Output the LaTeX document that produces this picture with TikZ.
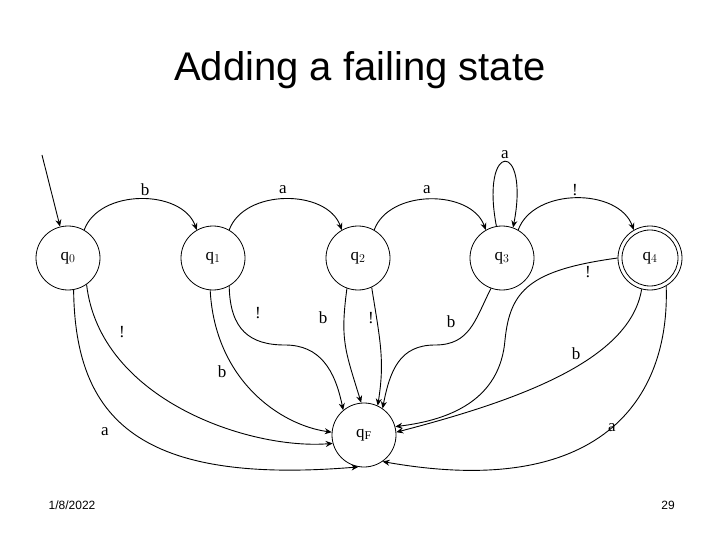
\documentclass[tikz,border=0pt]{standalone}
\usepackage{fontspec}
\setmainfont{Liberation Serif}
\newfontfamily\titlefont{Liberation Sans}
\usetikzlibrary{arrows.meta}
\begin{document}
\begin{tikzpicture}[x=1pt,y=-1pt,
  st/.style={circle,draw,line width=0.8pt,minimum size=64pt,inner sep=0pt,font=\fontsize{17}{20}\selectfont},
  tr/.style={-{Stealth[length=7pt,width=6pt]},line width=0.9pt},
  lab/.style={font=\fontsize{17}{20}\selectfont,inner sep=1pt}]
\useasboundingbox (0,0) rectangle (720,540);
\node[font=\titlefont\fontsize{40}{44}\selectfont] (title) at (360,70) {Adding a failing state};
\node[font=\titlefont\fontsize{12}{14}\selectfont] (date) at (72,505) {1/8/2022};
\node[font=\titlefont\fontsize{12}{14}\selectfont] (pg) at (668,505) {29};
\node[st] (q0) at (68,258) {q$_0$};
\node[st] (q1) at (213,258) {q$_1$};
\node[st] (q2) at (358,258) {q$_2$};
\node[st] (q3) at (502,258) {q$_3$};
\node[st] (q4) at (650,258) {q$_4$};
\node[st,minimum size=56pt] (q4i) at (650,258) {};
\node[st] (qF) at (364,435) {q$_\mathrm{F}$};
\coordinate (start) at (42,155);
\draw[tr] (start) -- (q0);
\draw[tr] (q0.60) to[out=70,in=110] (q1.120);
\draw[tr] (q1.60) to[out=70,in=110] (q2.120);
\draw[tr] (q2.60) to[out=70,in=110] (q3.120);
\draw[tr] (q3.100) .. controls (480,140) and (530,140) .. (q3.70);
\draw[tr] (q3.60) to[out=70,in=110] (q4.120);
\draw[tr] (q0.-80) .. controls (75,420) and (140,485) .. (qF.-100);
\draw[tr] (q0.-55) .. controls (100,400) and (250,450) .. (qF.-165);
\draw[tr] (q1.-95) .. controls (215,380) and (280,425) .. (qF.175);
\draw[tr] (q1.-60) .. controls (230,330) and (250,345) .. (285,345) .. controls (320,345) and (335,370) .. (qF.130);
\draw[tr] (q2.-110) .. controls (340,340) and (345,350) .. (qF.95);
\draw[tr] (q2.-65) .. controls (380,340) and (385,360) .. (qF.65);
\draw[tr] (q3.-110) .. controls (475,320) and (470,345) .. (435,345) .. controls (400,345) and (390,370) .. (qF.55);
\draw[tr] (q4.180) .. controls (530,270) and (510,290) .. (505,340) .. controls (500,400) and (450,420) .. (qF.15);
\draw[tr] (q4.-105) .. controls (630,360) and (520,400) .. (qF.5);
\draw[tr] (q4.-60) .. controls (670,400) and (600,500) .. (qF.-55);
\node[lab] (la1) at (145,190) {b};
\node[lab] (la2) at (283,190) {a};
\node[lab] (la3) at (427,190) {a};
\node[lab] (la4) at (505,155) {a};
\node[lab] (la5) at (575,190) {!};
\node[lab] (la6) at (105,432) {a};
\node[lab] (la7) at (122,332) {!};
\node[lab] (la8) at (222,372) {b};
\node[lab] (la9) at (258,313) {!};
\node[lab] (la10) at (323,318) {b};
\node[lab] (la11) at (371,318) {!};
\node[lab] (la12) at (451,322) {b};
\node[lab] (la13) at (588,272) {!};
\node[lab] (la14) at (576,354) {b};
\node[lab] (la15) at (612,428) {a};
\end{tikzpicture}
\end{document}
